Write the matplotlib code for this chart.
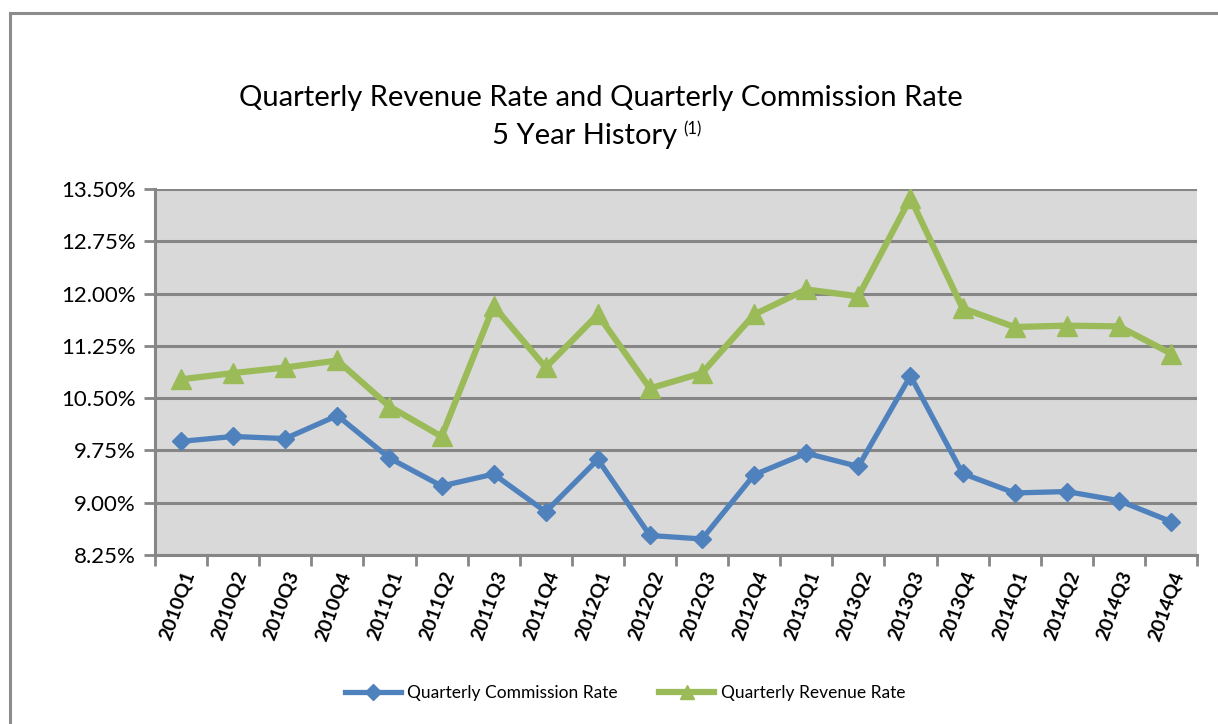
import matplotlib
matplotlib.use("Agg")
import matplotlib.pyplot as plt
import numpy as np
from matplotlib.lines import Line2D
import matplotlib.transforms as mtransforms

quarters = ["2010Q1", "2010Q2", "2010Q3", "2010Q4",
            "2011Q1", "2011Q2", "2011Q3", "2011Q4",
            "2012Q1", "2012Q2", "2012Q3", "2012Q4",
            "2013Q1", "2013Q2", "2013Q3", "2013Q4",
            "2014Q1", "2014Q2", "2014Q3", "2014Q4"]
commission_rate = [9.88, 9.95, 9.92, 10.25, 9.64, 9.24, 9.41, 8.87, 9.62, 8.53,
                   8.48, 9.40, 9.71, 9.52, 10.82, 9.42, 9.14, 9.16, 9.03, 8.73]
revenue_rate = [10.77, 10.86, 10.94, 11.04, 10.38, 9.95, 11.82, 10.94, 11.70, 10.64,
                10.86, 11.70, 12.06, 11.96, 13.37, 11.79, 11.52, 11.54, 11.53, 11.14]
y_ticks = [8.25, 9.00, 9.75, 10.50, 11.25, 12.00, 12.75, 13.50]

plt.rcParams['font.family'] = ['Lato', 'DejaVu Sans']

W, H = 1218, 724
fig = plt.figure(figsize=(W / 100, H / 100), dpi=100)
fig.patch.set_facecolor("white")

# outer border
fig.add_artist(Line2D([10 / W, 1.0], [1 - 13 / H, 1 - 13 / H], color="#8c8c8c", lw=2.2))
fig.add_artist(Line2D([10 / W, 10 / W], [0, 1 - 13 / H], color="#8c8c8c", lw=2.2))

left, right, top, bottom = 155, 1197, 189, 555
ax = fig.add_axes([left / W, 1 - bottom / H, (right - left) / W, (bottom - top) / H])
ax.set_facecolor("#D9D9D9")

x = np.arange(len(quarters))
blue = "#4F81BD"
green = "#9BBB59"
ax.plot(x, revenue_rate, color=green, lw=4.5, marker="^", markersize=15,
        label="Quarterly Revenue Rate", zorder=3)
ax.plot(x, commission_rate, color=blue, lw=3.8, marker="D", markersize=9,
        label="Quarterly Commission Rate", zorder=4)

ax.set_xlim(-0.5, len(quarters) - 0.5)
ax.set_ylim(8.25, 13.5)
ax.set_yticks(y_ticks)
ax.set_yticklabels([f"{v:.2f}%" for v in y_ticks], fontsize=16)
ax.yaxis.grid(True, color="#868686", lw=2.2)
ax.set_axisbelow(True)

ax.set_xticks(x)
ax.set_xticklabels(quarters, rotation=70, ha="right", rotation_mode="anchor",
                   fontsize=14, fontweight="bold")
offset = mtransforms.ScaledTranslation(8 / 100, 0, fig.dpi_scale_trans)
for lbl in ax.get_xticklabels():
    lbl.set_transform(lbl.get_transform() + offset)
ax.set_xticks(np.arange(-0.5, len(quarters), 1), minor=True)
ax.tick_params(axis="x", which="major", length=0, pad=10)
ax.tick_params(axis="x", which="minor", length=8, width=2, color="#868686")
ax.tick_params(axis="y", length=8, width=2, color="#868686", pad=6)

for s in ["top", "right"]:
    ax.spines[s].set_visible(False)
for s in ["left", "bottom"]:
    ax.spines[s].set_color("#868686")
    ax.spines[s].set_linewidth(2.2)

fig.text(601 / W, 1 - 98 / H, "Quarterly Revenue Rate and Quarterly Commission Rate",
         ha="center", va="center", fontsize=21)
fig.text(677 / W, 1 - 136 / H, "5 Year History", ha="right", va="center", fontsize=21)
fig.text(683 / W, 1 - 129 / H, "(1)", ha="left", va="center", fontsize=12)

handles = [Line2D([], [], color=blue, lw=3.8, marker="D", markersize=8),
           Line2D([], [], color=green, lw=4.5, marker="^", markersize=10)]
fig.legend(handles, ["Quarterly Commission Rate", "Quarterly Revenue Rate"],
           loc="center", bbox_to_anchor=(625 / W, 1 - 693 / H), ncol=2, frameon=False,
           fontsize=12.5, handlelength=3.2, handletextpad=0.35, columnspacing=2.4)

fig.savefig("out.png", dpi=100)
